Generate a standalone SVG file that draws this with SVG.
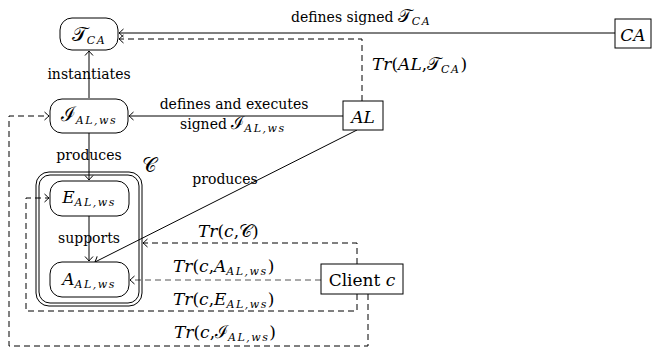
<svg xmlns="http://www.w3.org/2000/svg" width="652" height="352" viewBox="0 0 652 352">
<style>
text{font-family:"DejaVu Serif","Liberation Serif",serif;font-size:14px;fill:#000}
.mt{font-size:17px}
.m{font-style:italic;font-size:17px}
.c{font-size:20px}
.c2{font-size:18px}
.s{font-size:11px;font-style:italic;letter-spacing:1.5px}
.node{fill:#fff;stroke:#000;stroke-width:1}
.e{fill:none;stroke:#000;stroke-width:1}
.d{fill:none;stroke:#000;stroke-width:1;stroke-dasharray:6 4}
.g{stroke:#555}
</style>
<defs>
<marker id="to" markerUnits="userSpaceOnUse" markerWidth="12" markerHeight="12" viewBox="-6 -6 12 12" refX="0" refY="0" orient="auto" overflow="visible">
<path d="M-4.5,-4 Q-1.2,-1 0,0 Q-1.2,1 -4.5,4" fill="none" stroke="#000" stroke-width="1"/>
</marker>
</defs>
<g id="connectors">
<line class="e" x1="89" y1="98" x2="89" y2="51" marker-end="url(#to)"/>
<line class="e" x1="615" y1="33" x2="119" y2="33" marker-end="url(#to)"/>
<polyline class="d" points="362,101 362,39 119,39" marker-end="url(#to)"/>
<line class="e" x1="343" y1="116" x2="129" y2="116" marker-end="url(#to)"/>
<line class="e" x1="89" y1="133" x2="89" y2="180" marker-end="url(#to)"/>
<line class="e" x1="89" y1="216" x2="89" y2="261" marker-end="url(#to)"/>
<line class="e" x1="357" y1="130" x2="95" y2="262" marker-end="url(#to)"/>
<polyline class="d" points="357,264 357,243 143,243" marker-end="url(#to)"/>
<line class="d g" x1="321" y1="280" x2="130" y2="280" marker-end="url(#to)"/>
<polyline class="d" points="357,294 357,311 26,311 26,198 49,198" marker-end="url(#to)"/>
<polyline class="d" points="368,294 368,346 9,346 9,116 49,116" marker-end="url(#to)"/>
<text x="89" y="79" text-anchor="middle">instantiates</text>
<text x="291" y="22">defines signed <tspan class="c2">𝒯</tspan><tspan class="s" dy="3">CA</tspan></text>
<text x="372" y="70" class="mt"><tspan class="m">Tr</tspan>(<tspan class="m">AL</tspan>,<tspan class="c2">𝒯</tspan><tspan class="s" dy="3">CA</tspan><tspan dy="-3">)</tspan></text>
<text x="234" y="109" text-anchor="middle">defines and executes</text>
<text x="180" y="129">signed <tspan class="c2">ℐ</tspan><tspan class="s" dy="3">AL,ws</tspan></text>
<text x="89" y="160" text-anchor="middle">produces</text>
<text x="225" y="184" text-anchor="middle">produces</text>
<text x="89" y="243" text-anchor="middle">supports</text>
<text x="198" y="237" class="mt"><tspan class="m">Tr</tspan>(<tspan class="m">c</tspan>,<tspan class="c2">𝒞</tspan>)</text>
<text x="173" y="272" class="mt"><tspan class="m">Tr</tspan>(<tspan class="m">c</tspan>,<tspan class="m">A</tspan><tspan class="s" dy="3">AL,ws</tspan><tspan dy="-3">)</tspan></text>
<text x="173" y="305" class="mt"><tspan class="m">Tr</tspan>(<tspan class="m">c</tspan>,<tspan class="m">E</tspan><tspan class="s" dy="3">AL,ws</tspan><tspan dy="-3">)</tspan></text>
<text x="174" y="338" class="mt"><tspan class="m">Tr</tspan>(<tspan class="m">c</tspan>,<tspan class="c2">ℐ</tspan><tspan class="s" dy="3">AL,ws</tspan><tspan dy="-3">)</tspan></text>
</g>
<g id="C">
<rect class="e" x="36" y="172" width="106" height="134" rx="13"/>
<rect class="e" x="39" y="175" width="100" height="128" rx="11"/>
<text x="142" y="172" class="c">𝒞</text>
</g>
<g id="TCA">
<rect class="node" x="60" y="18" width="58" height="32" rx="12"/>
<text x="89" y="41" text-anchor="middle"><tspan class="c">𝒯</tspan><tspan class="s" dy="3">CA</tspan></text>
</g>
<g id="IALws">
<rect class="node" x="50" y="99" width="78" height="34" rx="12"/>
<text x="89" y="121" text-anchor="middle"><tspan class="c">ℐ</tspan><tspan class="s" dy="3">AL,ws</tspan></text>
</g>
<g id="EALws">
<rect class="node" x="50" y="181" width="79" height="35" rx="12"/>
<text x="89" y="203" text-anchor="middle"><tspan class="m">E</tspan><tspan class="s" dy="3">AL,ws</tspan></text>
</g>
<g id="AALws">
<rect class="node" x="50" y="262" width="79" height="35" rx="12"/>
<text x="89" y="285" text-anchor="middle"><tspan class="m">A</tspan><tspan class="s" dy="3">AL,ws</tspan></text>
</g>
<g id="AL">
<rect class="node" x="343" y="101" width="40" height="29"/>
<text x="363" y="123" text-anchor="middle" class="m">AL</text>
</g>
<g id="CAnode">
<rect class="node" x="615" y="19" width="36" height="29"/>
<text x="633" y="41" text-anchor="middle" class="m">CA</text>
</g>
<g id="Client">
<rect class="node" x="321" y="264" width="82" height="30"/>
<text x="362" y="286" text-anchor="middle" class="mt">Client <tspan class="m">c</tspan></text>
</g>
</svg>
